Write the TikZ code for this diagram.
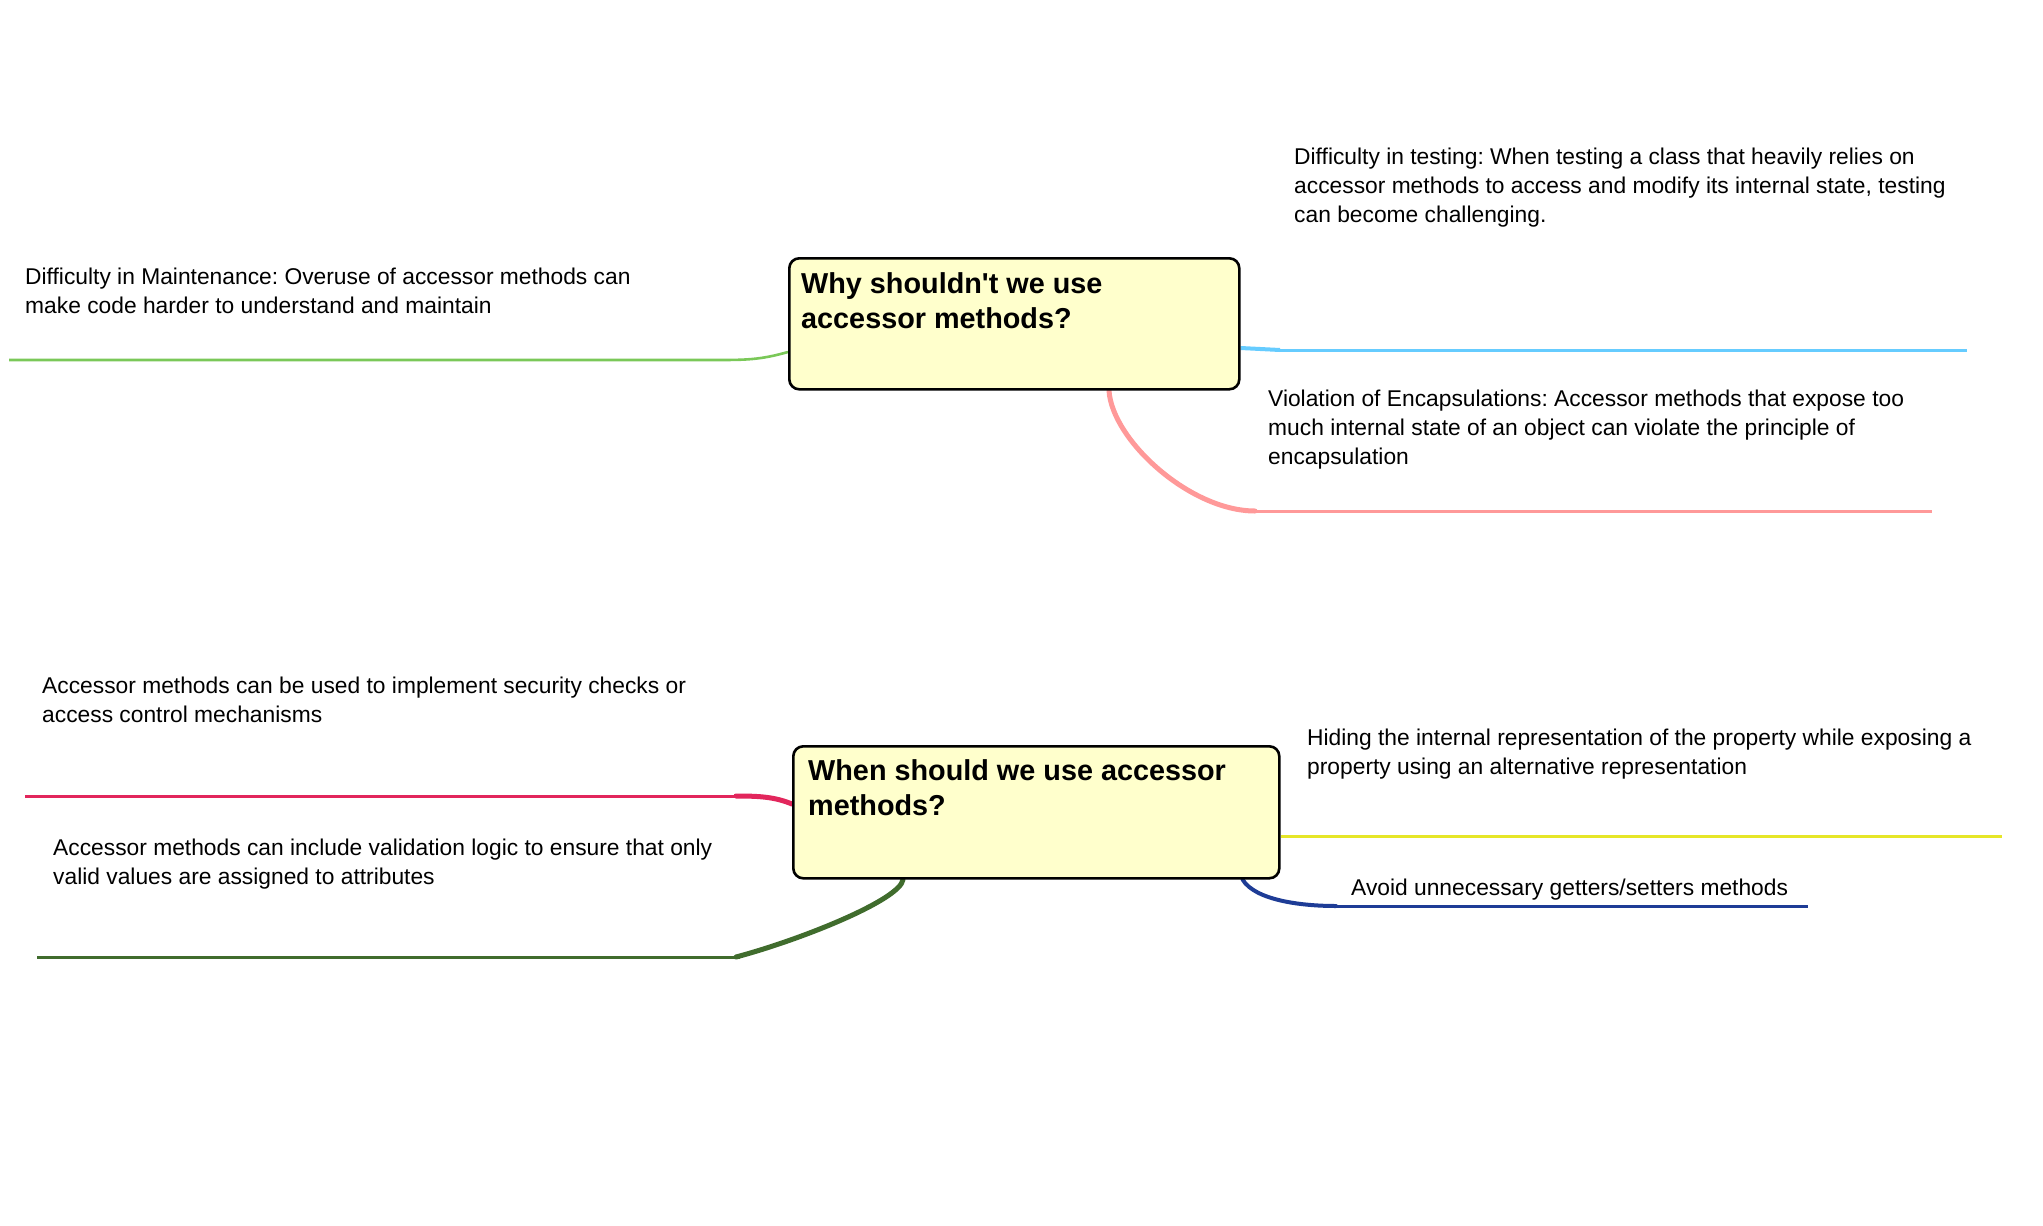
\documentclass[tikz,border=0pt]{standalone}
\usepackage{fontspec}
\setmainfont{Liberation Sans}[Ligatures=TeXOff]
\usetikzlibrary{calc}
\frenchspacing

\definecolor{boxfill}{RGB}{255,255,204}
\definecolor{cMaint}{RGB}{122,200,88}
\definecolor{cTest}{RGB}{102,204,255}
\definecolor{cViol}{RGB}{255,153,153}
\definecolor{cSec}{RGB}{226,38,92}
\definecolor{cValid}{RGB}{64,108,45}
\definecolor{cHide}{RGB}{230,230,40}
\definecolor{cAvoid}{RGB}{30,60,150}

\pgfdeclarelayer{bg}
\pgfdeclarelayer{lines}
\pgfsetlayers{bg,lines,main}

\begin{document}
\begin{tikzpicture}[x=1pt,y=-1pt,
  qbox/.style={draw=black, line width=2.6pt, fill=boxfill, rounded corners=10pt,
               anchor=north west, inner sep=0pt},
  % multi-line texts are placed by the baseline of their last line
  qtitle/.style={font=\fontsize{28.8}{35}\selectfont\bfseries, align=left,
                 anchor=base west, inner sep=0pt},
  leaf/.style={font=\fontsize{22.8}{29}\selectfont\frenchspacing, align=left,
               anchor=base west, inner sep=0pt},
  branch/.style={line width=3pt},
  stem/.style={line width=5pt, line cap=round},
]
\begin{pgfonlayer}{bg}
  \fill[white] (0,0) rectangle (2043,1226);
\end{pgfonlayer}
\useasboundingbox (0,0) rectangle (2043,1226);

% central topics
\node[qbox, minimum width=450pt, minimum height=131pt] (why) at (788,257) {};
\node[qtitle] (whyT) at (801,328) {Why shouldn't we use\\accessor methods?};
\node[qbox, minimum width=486pt, minimum height=132pt] (when) at (792,745) {};
\node[qtitle] (whenT) at (808,815) {When should we use accessor\\methods?};

% leaves of the first topic
\node[leaf] (maint) at (25,313) {Difficulty in Maintenance: Overuse of accessor methods can\\make code harder to understand and maintain};
\node[leaf] (test) at (1294,222) {Difficulty in testing: When testing a class that heavily relies on\\accessor methods to access and modify its internal state, testing\\can become challenging.};
\node[leaf] (viol) at (1268,464) {Violation of Encapsulations: Accessor methods that expose too\\much internal state of an object can violate the principle of\\encapsulation};

% leaves of the second topic
\node[leaf] (sec) at (42,722) {Accessor methods can be used to implement security checks or\\access control mechanisms};
\node[leaf] (valid) at (53,884) {Accessor methods can include validation logic to ensure that only\\valid values are assigned to attributes};
\node[leaf] (hide) at (1307,774) {Hiding the internal representation of the property while exposing a\\property using an alternative representation};
\node[leaf] (avoid) at (1351,895) {Avoid unnecessary getters/setters methods};

% underline end points
\coordinate (maintEnd) at (9,360);
\coordinate (testEnd) at (1967,350);
\coordinate (violEnd) at (1932,511);
\coordinate (secEnd) at (25,796);
\coordinate (validEnd) at (37,957);
\coordinate (hideEnd) at (2002,836);
\coordinate (avoidEnd) at (1808,906);

\begin{pgfonlayer}{lines}
  % Why shouldn't we use accessor methods?
  \draw[cMaint, line width=2.6pt] ($(why.north west)+(0,95)$)
     .. controls (760,360) and (745,360) .. (715,360) -- (maintEnd);
  \draw[cTest, line width=4pt] ($(why.north east)+(0,91)$) -- (1280,350);
  \draw[cTest, branch] (1275,350) -- (testEnd);
  \draw[cViol, stem] ($(why.south west)+(321,0)$)
     .. controls (1112,440) and (1190,511) .. (1255,511);
  \draw[cViol, branch] (1250,511) -- (violEnd);

  % When should we use accessor methods?
  \draw[cSec, stem] ($(when.north west)+(0,59)$)
     .. controls (775,797) and (760,796) .. (736,796);
  \draw[cSec, branch] (740,796) -- (secEnd);
  \draw[cValid, stem] ($(when.south west)+(111,0)$)
     .. controls (900,900) and (800,940) .. (736,957);
  \draw[cValid, branch] (740,957) -- (validEnd);
  \draw[cHide, branch] ($(when.north east)+(0,91)$) -- (hideEnd);
  \draw[cAvoid, line width=4pt, line cap=round] ($(when.south east)+(-38,0)$)
     .. controls (1255,900) and (1300,906) .. (1336,906);
  \draw[cAvoid, branch] (1332,906) -- (avoidEnd);
\end{pgfonlayer}
\end{tikzpicture}
\end{document}
